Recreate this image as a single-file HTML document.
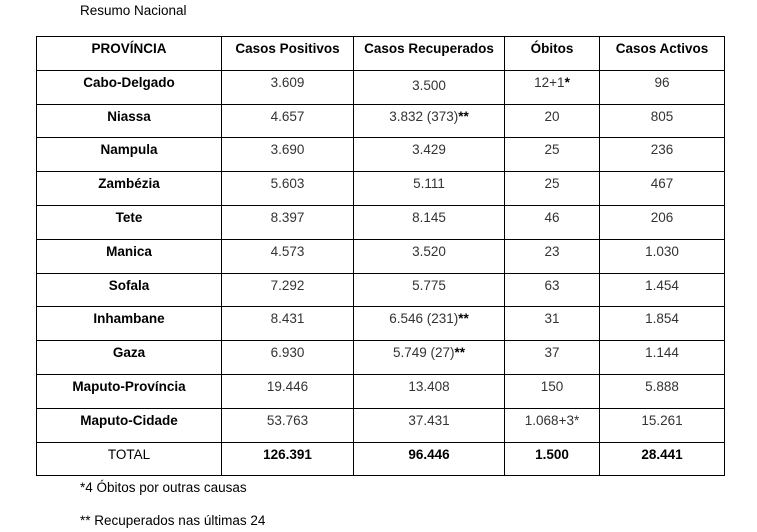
<!DOCTYPE html>
<html><head><meta charset="utf-8"><style>
body{margin:0;width:757px;height:532px;background:#fff;font-family:"Liberation Sans",sans-serif;position:relative;overflow:hidden}
.t{position:absolute;font-size:13.5px;color:#000}
table{position:absolute;left:36px;top:36px;border-collapse:collapse;table-layout:fixed}
tr{height:33.8px}
td{border:1.5px solid #000;height:29.8px;padding:3px 0 0 0;vertical-align:top;text-align:center;font-size:13.5px;line-height:17px;color:#333;box-sizing:border-box}
td:first-child{color:#000;font-weight:bold}
tr.h td{color:#000;font-weight:bold}
</style></head><body>
<div class="t" style="left:80px;top:3px">Resumo Nacional</div>
<table>
<colgroup><col style="width:185px"><col style="width:132px"><col style="width:151px"><col style="width:95px"><col style="width:125px"></colgroup>
<tr class="h"><td>PROVÍNCIA</td><td>Casos Positivos</td><td>Casos Recuperados</td><td>Óbitos</td><td>Casos Activos</td></tr>
<tr><td>Cabo-Delgado</td><td>3.609</td><td><span style="position:relative;top:3px">3.500</span></td><td>12+1<b style="color:#000">*</b></td><td>96</td></tr>
<tr><td>Niassa</td><td>4.657</td><td>3.832 (373)<b style="color:#000">**</b></td><td>20</td><td>805</td></tr>
<tr><td>Nampula</td><td>3.690</td><td>3.429</td><td>25</td><td>236</td></tr>
<tr><td>Zambézia</td><td>5.603</td><td>5.111</td><td>25</td><td>467</td></tr>
<tr><td>Tete</td><td>8.397</td><td>8.145</td><td>46</td><td>206</td></tr>
<tr><td>Manica</td><td>4.573</td><td>3.520</td><td>23</td><td>1.030</td></tr>
<tr><td>Sofala</td><td>7.292</td><td>5.775</td><td>63</td><td>1.454</td></tr>
<tr><td>Inhambane</td><td>8.431</td><td>6.546 (231)<b style="color:#000">**</b></td><td>31</td><td>1.854</td></tr>
<tr><td>Gaza</td><td>6.930</td><td>5.749 (27)<b style="color:#000">**</b></td><td>37</td><td>1.144</td></tr>
<tr><td>Maputo-Província</td><td>19.446</td><td>13.408</td><td>150</td><td>5.888</td></tr>
<tr><td>Maputo-Cidade</td><td>53.763</td><td>37.431</td><td>1.068+3*</td><td>15.261</td></tr>
<tr class="h"><td style="font-weight:normal">TOTAL</td><td>126.391</td><td>96.446</td><td>1.500</td><td>28.441</td></tr>
</table>
<div class="t" style="left:80px;top:480px">*4 Óbitos por outras causas</div>
<div class="t" style="left:80px;top:513px">** Recuperados nas últimas 24</div>
</body></html>
